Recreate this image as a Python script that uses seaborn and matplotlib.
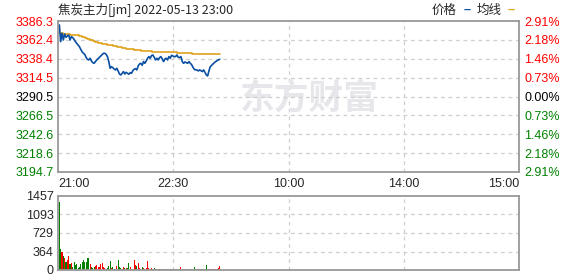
import numpy as np
import pandas as pd
import matplotlib
matplotlib.use("Agg")
import matplotlib.pyplot as plt
import seaborn as sns

title = "焦炭主力[jm] 2022-05-13 23:00"
x_tick_labels = ["21:00", "22:30", "10:00", "14:00", "15:00"]
total_minutes = 345
prev_close = 3290.5
price_levels = [3194.7, 3218.6, 3242.6, 3266.5, 3290.5, 3314.5, 3338.4, 3362.4, 3386.3]
pct_labels = ["2.91%", "2.18%", "1.46%", "0.73%", "0.00%", "0.73%", "1.46%", "2.18%", "2.91%"]
vol_levels = [0, 364, 729, 1093, 1457]

price = [
    3381.3, 3360.1, 3370.7, 3362.2, 3369.8, 3365.6, 3367.3, 3368.6, 3362.2, 3366.5,
    3365.2, 3363.1, 3360.1, 3358.0, 3355.9, 3353.8, 3350.4, 3347.4, 3345.3, 3344.0,
    3340.2, 3337.7, 3336.9, 3339.0, 3335.6, 3333.5, 3332.6, 3334.8, 3336.9, 3338.6,
    3340.2, 3341.9, 3343.6, 3345.3, 3345.3, 3344.0, 3341.1, 3334.8, 3326.3, 3328.4,
    3327.1, 3325.4, 3324.2, 3326.3, 3322.9, 3319.1, 3317.8, 3319.9, 3322.1, 3319.1,
    3321.2, 3319.9, 3318.7, 3320.8, 3319.9, 3323.3, 3325.0, 3325.9, 3324.2, 3329.3,
    3331.8, 3332.6, 3330.1, 3334.8, 3332.6, 3335.6, 3339.0, 3341.1, 3339.0, 3342.4,
    3343.2, 3340.2, 3336.9, 3339.0, 3336.9, 3339.8, 3341.1, 3338.1, 3334.8, 3338.1,
    3339.0, 3336.9, 3341.1, 3339.0, 3342.8, 3341.9, 3341.1, 3341.1, 3343.2, 3340.2,
    3339.8, 3341.1, 3334.8, 3332.6, 3334.3, 3333.5, 3332.6, 3334.8, 3332.6, 3330.9,
    3327.6, 3325.0, 3324.2, 3324.2, 3322.9, 3324.2, 3323.3, 3322.1, 3324.2, 3321.2,
    3317.8, 3316.6, 3323.3, 3328.4, 3330.1, 3331.8, 3333.5, 3334.8, 3336.0, 3336.9,
    3337.7,
]

avg_price = [
    3371.1, 3370.8, 3370.5, 3370.2, 3369.9, 3369.7, 3369.5, 3369.3, 3369.1, 3368.9,
    3368.7, 3368.5, 3368.3, 3368.2, 3368.0, 3367.9, 3367.2, 3366.4, 3365.6, 3364.8,
    3364.1, 3363.5, 3363.0, 3362.4, 3361.8, 3361.2, 3360.6, 3360.0, 3359.4, 3358.9,
    3358.4, 3358.0, 3357.7, 3357.3, 3357.0, 3356.6, 3356.3, 3356.0, 3355.7, 3355.3,
    3355.0, 3354.6, 3354.3, 3353.9, 3353.5, 3353.1, 3352.8, 3352.5, 3352.1, 3351.8,
    3351.4, 3351.2, 3350.9, 3350.7, 3350.4, 3350.2, 3349.9, 3349.7, 3349.4, 3349.2,
    3348.9, 3348.7, 3348.6, 3348.4, 3348.2, 3348.1, 3347.9, 3347.7, 3347.6, 3347.4,
    3347.2, 3347.2, 3347.1, 3347.1, 3347.0, 3347.0, 3346.9, 3346.9, 3346.8, 3346.8,
    3346.7, 3346.7, 3346.6, 3346.6, 3346.5, 3346.5, 3346.4, 3346.4, 3346.3, 3346.3,
    3346.2, 3346.0, 3345.8, 3345.6, 3345.4, 3345.3, 3345.2, 3345.1, 3345.1, 3345.0,
    3344.9, 3344.9, 3344.8, 3344.8, 3344.7, 3344.7, 3344.6, 3344.6, 3344.5, 3344.5,
    3344.4, 3344.4, 3344.3, 3344.3, 3344.2, 3344.2, 3344.1, 3344.1, 3344.0, 3344.0,
    3343.9,
]

volume = [
    1345, 408, 355, 280, 230, 160, 197, 276, 118, 130,
    66, 164, 99, 120, 33, 66, 118, 150, 197, 164,
    164, 230, 230, 118, 53, 40, 66, 79, 99, 66,
    53, 118, 131, 66, 33, 20, 33, 79, 184, 33,
    53, 26, 26, 79, 197, 66, 33, 26, 53, 33,
    33, 40, 145, 53, 26, 26, 197, 99, 79, 131,
    40, 26, 53, 33, 26, 40, 177, 33, 26, 40,
    20, 33, 26, 13, 20, 13, 20, 13, 20, 13,
    13, 20, 13, 13, 20, 13, 13, 20, 13, 13,
    20, 53, 26, 13, 20, 13, 20, 13, 20, 13,
    20, 53, 26, 13, 20, 13, 20, 13, 20, 13,
    99, 20, 13, 20, 13, 20, 26, 20, 26, 33,
    79,
]

minute = list(range(1, len(price) + 1))
df = pd.DataFrame({"minute": minute, "price": price, "avg": avg_price, "volume": volume})
df["dir"] = np.where(df["price"].diff().fillna(-1) >= 0, "up", "down")

sns.set_theme(style="white")
plt.rcParams["font.family"] = ["Liberation Sans", "Noto Sans CJK SC", "DejaVu Sans"]

W, H = 578, 276
fig = plt.figure(figsize=(W / 100, H / 100), dpi=100)
fig.patch.set_facecolor("white")

def fx(px):
    return px / W

def fy(py):
    return 1 - py / H

ax = fig.add_axes([fx(58), fy(172), fx(519) - fx(58), fy(21) - fy(172)])
axv = fig.add_axes([fx(58), fy(270), fx(519) - fx(58), fy(196) - fy(270)])

frame_col = "#999999"
grid_col = "#cfcfcf"
xq = [total_minutes * k / 4 for k in range(5)]

for a in (ax, axv):
    for s in a.spines.values():
        s.set_color(frame_col)
        s.set_linewidth(1.3)
    a.set_xlim(0, total_minutes)
    a.tick_params(length=0)
    for xv in xq[1:4]:
        a.axvline(xv, color=grid_col, lw=0.9, ls=(0, (3, 3)), zorder=0)

# watermark
ax.text(0.545, 0.49, "东方财富", transform=ax.transAxes, ha="center", va="center",
        fontsize=25, fontweight="bold", color="#e6e6eb", family=["Noto Sans CJK SC"], zorder=0)

for lv in price_levels[1:-1]:
    ax.axhline(lv, color=grid_col, lw=0.9, ls=(0, (3, 3)), zorder=0)

sns.lineplot(data=df, x="minute", y="avg", ax=ax, color="#e0a21e", lw=1.2, drawstyle="steps-post")
sns.lineplot(data=df, x="minute", y="price", ax=ax, color="#0b4fa3", lw=1.2)

ax.set_ylim(price_levels[0], price_levels[-1])
ax.set_yticks(price_levels)
ax.set_yticklabels([f"{v:.1f}" for v in price_levels], fontsize=9)
for lab, v in zip(ax.get_yticklabels(), price_levels):
    lab.set_color("#ff0000" if v > prev_close else ("#008000" if v < prev_close else "black"))
ax.tick_params(axis="y", pad=3)
ax.set_xlim(0, total_minutes)
ax.set_xticks(xq)
ax.set_xticklabels(x_tick_labels, fontsize=9)
xl = ax.get_xticklabels()
xl[0].set_ha("left")
xl[-1].set_ha("right")
ax.tick_params(axis="x", pad=4)
ax.set_xlabel("")
ax.set_ylabel("")

ax2 = ax.twinx()
ax2.set_ylim(price_levels[0], price_levels[-1])
ax2.set_yticks(price_levels)
ax2.set_yticklabels(pct_labels, fontsize=9)
for lab, v in zip(ax2.get_yticklabels(), price_levels):
    lab.set_color("#ff0000" if v > prev_close else ("#008000" if v < prev_close else "black"))
ax2.tick_params(length=0, pad=4)
for s in ax2.spines.values():
    s.set_visible(False)

# volume
for lv in vol_levels[1:-1]:
    axv.axhline(lv, color=grid_col, lw=0.9, ls=(0, (3, 3)), zorder=0)
sns.barplot(data=df, x="minute", y="volume", hue="dir", palette={"up": "#ff0000", "down": "#008000"},
            native_scale=True, width=0.8, dodge=False, legend=False, ax=axv, saturation=1,
            linewidth=0)
axv.set_xlim(0, total_minutes)
axv.set_ylim(0, vol_levels[-1])
axv.set_yticks(vol_levels)
axv.set_yticklabels([str(v) for v in vol_levels], fontsize=9)
axv.set_xticks([])
axv.set_xlabel("")
axv.set_ylabel("")
axv.tick_params(axis="y", pad=3)

# title and legend
fig.text(fx(58), fy(10), title, fontsize=9, ha="left", va="center",
         family=["Noto Sans CJK SC", "DejaVu Sans"])
fig.text(fx(432), fy(10), "价格", fontsize=9, ha="left", va="center", family=["Noto Sans CJK SC"])
fig.text(fx(464), fy(10), "\u2013", fontsize=9, ha="left", va="center", color="#0b4fa3", fontweight="bold")
fig.text(fx(477), fy(10), "均线", fontsize=9, ha="left", va="center", family=["Noto Sans CJK SC"])
fig.text(fx(508), fy(10), "\u2013", fontsize=9, ha="left", va="center", color="#e0a21e", fontweight="bold")

fig.savefig("out.png", dpi=100, facecolor="white")
